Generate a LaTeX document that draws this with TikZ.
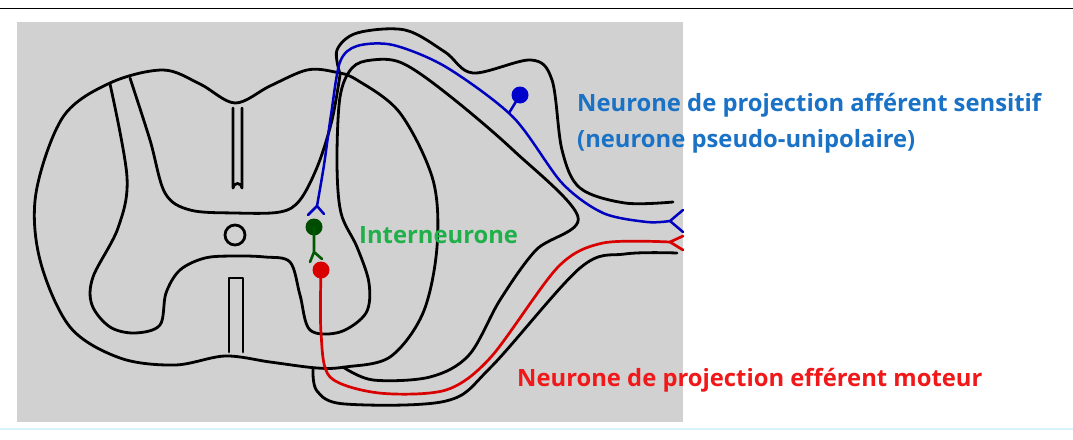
\documentclass[tikz,border=0pt]{standalone}
\usepackage{fontspec}
\setmainfont{Open Sans}
\begin{document}
\begin{tikzpicture}[x=1pt,y=-1pt,
  blk/.style={draw=black,line width=2.8pt,line join=round,line cap=round},
  bl/.style={draw=blue!75!black,line width=2.5pt,line cap=round},
  rd/.style={draw=red!85!black,line width=2.7pt,line cap=round},
  gr/.style={draw=green!35!black,line width=2.6pt,line cap=round},
  lab/.style={font=\bfseries\fontsize{23.8}{26}\selectfont,anchor=west,inner sep=0pt}]
\definecolor{tblue}{HTML}{1A72C6}
\definecolor{tgreen}{HTML}{1FB04A}
\definecolor{tred}{HTML}{F01818}
\useasboundingbox (0,0) rectangle (1073,439);
\fill[white] (0,0) rectangle (1073,439);
\draw[black,line width=1pt] (0,8) -- (1073,8);
\draw[cyan!15,line width=1.2pt] (0,429) -- (1073,429);
\fill[black!18] (17,22) rectangle (683,422);
% outer cord outline
\draw[blk] plot[smooth cycle,tension=0.55] coordinates {(235,103) (200,84) (163,70) (110,83) (63,117) (36,193) (40,260) (70,327) (120,358) (175,365) (225,356) (270,362) (317,368) (345,367) (390,357) (423,313) (437,247) (433,180) (400,113) (357,80) (335,72) (307,70) (270,86)};
% gray matter H (right side continues as root loop)
\draw[blk] plot[smooth,tension=0.55] coordinates {(110,84) (127,177) (118,228) (93,277) (92,305) (110,327) (135,333) (160,325) (166,293) (180,270) (205,258) (235,256) (265,257) (290,262) (300,295) (310,330) (340,332) (366,313) (369,283) (357,247) (341,213) (337,163) (340,97) (352,68) (372,60) (402,63) (446,93) (513,150) (578,217) (536,250) (500,300) (469,355) (430,377) (373,380) (343,367)};
\draw[blk] plot[smooth,tension=0.55] coordinates {(130,78) (150,140) (165,193) (190,210) (235,213) (280,212) (300,200) (318,165) (332,120) (340,75)};
% posterior septum slot
\draw[blk] (233,108) -- (233,188) arc[start angle=180,end angle=360,radius=4.5] -- (242,108);
% central canal
\draw[blk] (235,235) circle[radius=10];
% anterior fissure
\draw[blk] (229,352) -- (229,278) -- (243,278) -- (243,352);
% outer root line (dorsal)
\draw[blk] plot[smooth,tension=0.55] coordinates {(340,74) (337,50) (357,33) (405,30) (445,52) (473,73) (531,60) (552,80) (562,150) (580,188) (625,203) (673,202)};
% outer root line (ventral)
\draw[blk] plot[smooth,tension=0.55] coordinates {(313,368) (317,391) (345,404) (446,401) (491,367) (580,268) (625,254) (677,253)};
% blue afferent neuron
\draw[bl] plot[smooth,tension=0.5] coordinates {(317,206) (324,165) (331,115) (340,62) (357,46) (393,45) (446,67) (513,117) (562,183) (603,213) (647,222) (670,221)};
\draw[bl] (670,221) -- (683,210) (670,221) -- (683,232);
\draw[bl] (308,215) -- (317,206) -- (324,214);
\draw[bl] (509,113) -- (520,95);
\fill[blue!80!black] (520,95) circle[radius=8.5];
% green interneuron
\fill[green!30!black] (314,227) circle[radius=8.5];
\draw[gr] (314,227) -- (314,252) (310,262) -- (314,252) -- (322,259);
% red efferent neuron
\draw[rd] plot[smooth,tension=0.5] coordinates {(321,270) (321,333) (330,377) (379,393) (446,390) (491,357) (558,267) (603,243) (670,242)};
\draw[rd] (670,242) -- (683,236) (670,242) -- (683,250);
\fill[red!85!black] (321,270) circle[radius=8.5];
% labels
\node[lab,text=tblue] (t1) at (577,105) {Neurone de projection afférent sensitif};
\node[lab,text=tblue] (t2) at (577,141) {(neurone pseudo-unipolaire)};
\node[lab,text=tgreen] (t3) at (359,235) {Interneurone};
\node[lab,text=tred] (t4) at (517,380) {Neurone de projection efférent moteur};
\end{tikzpicture}
\end{document}
